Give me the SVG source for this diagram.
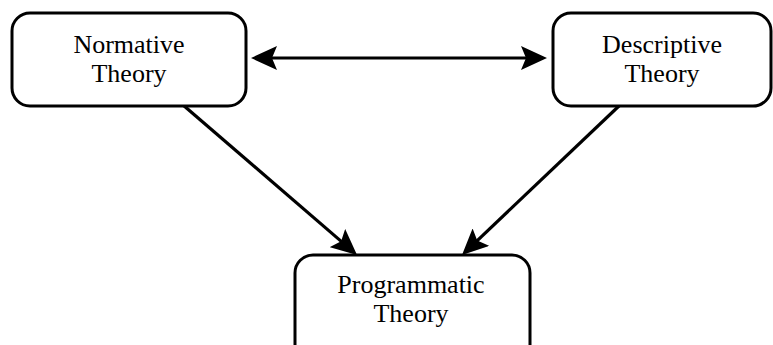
<svg xmlns="http://www.w3.org/2000/svg" width="773" height="345" viewBox="0 0 773 345">
<style>
.box{fill:#fff;stroke:#000;stroke-width:3}
.lbl{font-family:"Liberation Serif","Times New Roman",serif;font-size:26px;fill:#000;text-anchor:middle}
.edge{stroke:#000;stroke-width:3.2;fill:none}
</style>
<defs>
<marker id="ah" viewBox="0 0 26 24" markerWidth="26" markerHeight="24" refX="22" refY="12" orient="auto-start-reverse" markerUnits="userSpaceOnUse">
<path d="M0,0 L26,12 L0,24 L5,12 Z" fill="#000"/>
</marker>
</defs>
<rect width="773" height="345" fill="#fff"/>
<g id="connectors">
<line class="edge" x1="255" y1="58" x2="543" y2="58" marker-start="url(#ah)" marker-end="url(#ah)"/>
<line class="edge" x1="183" y1="105" x2="354" y2="252.4" marker-end="url(#ah)"/>
<line class="edge" x1="620" y1="105" x2="464.9" y2="252.3" marker-end="url(#ah)"/>
</g>
<g id="normative">
<rect class="box" x="12" y="13" width="234" height="93" rx="18"/>
<text class="lbl" x="129" y="53">Normative</text>
<text class="lbl" x="129" y="82">Theory</text>
</g>
<g id="descriptive">
<rect class="box" x="553" y="13" width="218" height="93" rx="18"/>
<text class="lbl" x="662" y="53">Descriptive</text>
<text class="lbl" x="662" y="82">Theory</text>
</g>
<g id="programmatic">
<rect class="box" x="295" y="255" width="235" height="110" rx="18"/>
<text class="lbl" x="411" y="293">Programmatic</text>
<text class="lbl" x="411" y="322">Theory</text>
</g>
</svg>
